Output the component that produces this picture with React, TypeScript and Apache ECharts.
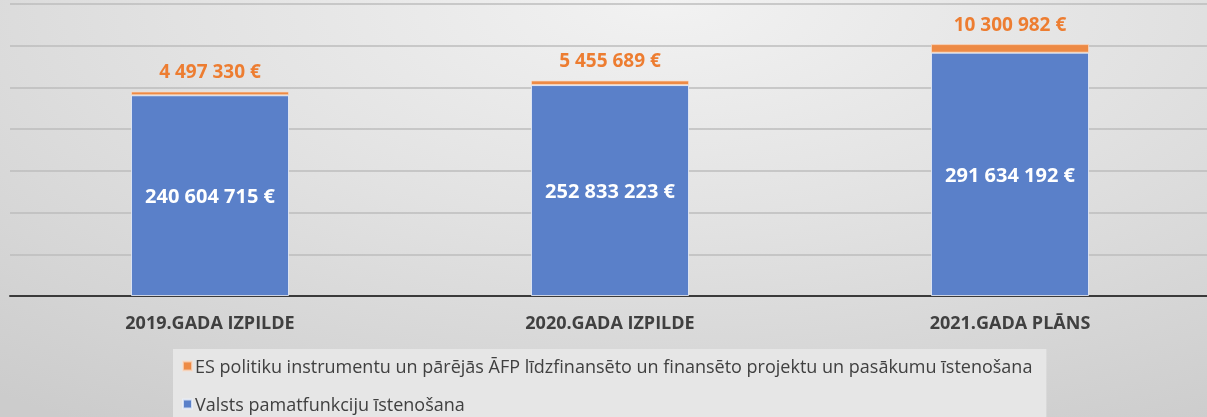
import React, { useEffect, useRef } from "react";
import * as echarts from "echarts";

const categories = ["2019.GADA IZPILDE", "2020.GADA IZPILDE", "2021.GADA PLĀNS"];
const seriesNames = [
  "ES politiku instrumentu un pārējās ĀFP līdzfinansēto un finansēto projektu un pasākumu īstenošana",
  "Valsts pamatfunkciju īstenošana",
];
const valstsValues = [240604715, 252833223, 291634192];
const esValues = [4497330, 5455689, 10300982];
const yTicks = [0, 50000000, 100000000, 150000000, 200000000, 250000000, 300000000, 350000000];

const fmt = (v: number) => String(Math.round(v)).replace(/\B(?=(\d{3})+(?!\d))/g, " ") + " €";
const FONT = "'Open Sans', 'Noto Sans', sans-serif";

export default function App() {
  const ref = useRef<HTMLDivElement>(null);
  useEffect(() => {
    if (!ref.current) return;
    const chart = echarts.init(ref.current, undefined, { renderer: "svg" });
    chart.setOption({
      animation: false,
      backgroundColor: "transparent",
      textStyle: { fontFamily: FONT },
      grid: { left: 10, right: 5, top: 4, bottom: 154, containLabel: false },
      legend: {
        orient: "vertical",
        left: 173,
        top: 349,
        data: [seriesNames[0], seriesNames[1]],
        itemWidth: 9,
        itemHeight: 9,
        itemGap: 20,
        icon: "rect",
        backgroundColor: "#e6e6e6",
        padding: [8, 14, 30, 9],
        textStyle: { fontSize: 18, color: "#404040", fontFamily: FONT, lineHeight: 18, padding: [0, 0, 0, -2] },
      },
      xAxis: {
        type: "category",
        data: categories,
        axisLine: { lineStyle: { color: "#3a3a3a", width: 2 } },
        axisTick: { show: false },
        axisLabel: { color: "#404040", fontWeight: "bold", fontSize: 18, margin: 17, fontFamily: FONT },
      },
      yAxis: {
        type: "value",
        min: yTicks[0],
        max: yTicks[yTicks.length - 1],
        interval: yTicks[1] - yTicks[0],
        axisLabel: { show: false },
        axisLine: { show: false },
        axisTick: { show: false },
        splitLine: { lineStyle: { color: "#bdbdbd", width: 1.5 } },
      },
      series: [
        {
          name: seriesNames[1],
          type: "bar",
          stack: "total",
          barWidth: "39.5%",
          data: valstsValues,
          itemStyle: { color: "#5a80c9", borderColor: "rgba(235,240,250,0.8)", borderWidth: 1 },
          label: {
            show: true,
            position: "inside",
            color: "#ffffff",
            fontWeight: "bold",
            fontSize: 20,
            fontFamily: FONT,
            formatter: (p: any) => fmt(p.value),
          },
        },
        {
          name: seriesNames[0],
          type: "bar",
          stack: "total",
          data: esValues,
          itemStyle: { color: "#ed8a45", borderColor: "rgba(250,220,200,0.7)", borderWidth: 1 },
          label: {
            show: true,
            position: "top",
            distance: 11,
            color: "#ed7d31",
            fontWeight: "bold",
            fontSize: 19,
            fontFamily: FONT,
            formatter: (p: any) => fmt(p.value),
          },
        },
      ],
    });
    return () => chart.dispose();
  }, []);
  return (
    <div
      style={{
        position: "fixed",
        left: 0,
        top: 0,
        width: 1207,
        height: 417,
        overflow: "hidden",
        background: "radial-gradient(ellipse 90% 120% at 55% 0%, #f2f2f2 0%, #e2e2e2 45%, #cccccc 100%)",
      }}
    >
      <div ref={ref} style={{ width: 1215, height: 450 }} />
    </div>
  );
}
